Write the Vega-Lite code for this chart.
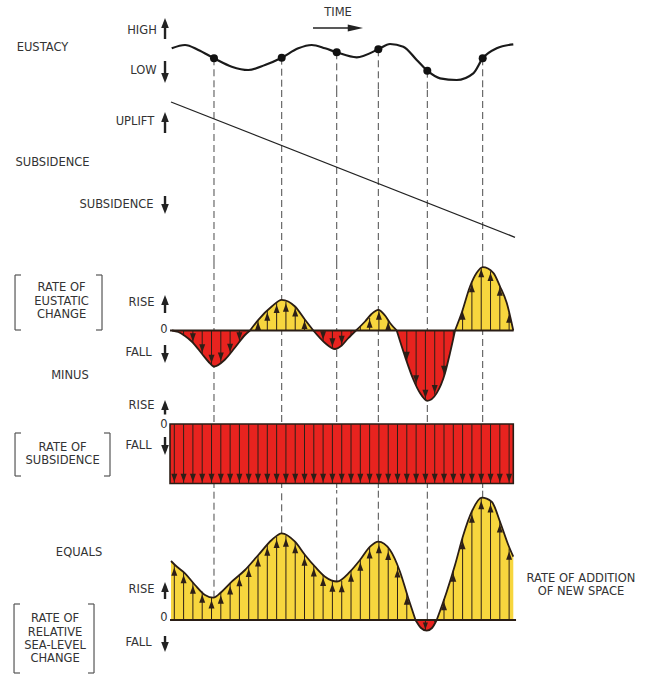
{
"$schema": "https://vega.github.io/schema/vega-lite/v6.json",
"background": "white",
"padding": 0,
"spacing": 0,
"bounds": "flush",
"config": {"view": {"stroke": null}, "axis": {"disable": true}, "legend": {"disable": true}},
"resolve": {"scale": {"x": "independent", "y": "independent", "color": "independent", "shape": "independent"}},
"datasets": {
"pivots": [
{"t":12.24,"e":1.7,"v":22.3},{"t":31.98,"e":2.3,"v":86.7},{"t":48.02,"e":7.7,"v":38.5},
{"t":60.15,"e":10.7,"v":78.3},{"t":74.43,"e":-10.7,"v":-10.7},{"t":90.58,"e":1.7,"v":122.3}],
"eustacy": [
{"t":-0.09,"y":11.7},{"t":3.79,"y":15},{"t":7.67,"y":10},{"t":12.24,"y":1.7},{"t":17.41,"y":-6.7},
{"t":22.24,"y":-10},{"t":27.11,"y":-5},{"t":31.98,"y":2.3},{"t":36.82,"y":11.7},{"t":40.73,"y":15},
{"t":44.61,"y":11.7},{"t":48.02,"y":7.7},{"t":53.85,"y":2.7},{"t":60.15,"y":10.7},{"t":63.56,"y":16},
{"t":67.43,"y":13.3},{"t":71.34,"y":0},{"t":74.43,"y":-10.7},{"t":78.13,"y":-18.3},{"t":83.0,"y":-20},
{"t":87.84,"y":-13.3},{"t":90.58,"y":1.7},{"t":94.66,"y":11.7},{"t":99.5,"y":15.7}],
"subsidence": [{"t": -0.29, "y": 0}, {"t": 100, "y": -135.3}],
"subRate": [{"t": -0.58, "t2": 99.5, "y": 0, "y2": -59.5}],
"eusRate": [
{"lobe":"A","dir":"fall","t":0.0,"y":0},{"lobe":"A","dir":"fall","t":1.84,"y":-1.5},{"lobe":"A","dir":"fall","t":3.79,"y":-5.5},
{"lobe":"A","dir":"fall","t":5.74,"y":-11},{"lobe":"A","dir":"fall","t":8.66,"y":-23},{"lobe":"A","dir":"fall","t":10.58,"y":-31},
{"lobe":"A","dir":"fall","t":12.24,"y":-36},{"lobe":"A","dir":"fall","t":15.45,"y":-29},{"lobe":"A","dir":"fall","t":18.37,"y":-17},
{"lobe":"A","dir":"fall","t":21.28,"y":-4.5},{"lobe":"A","dir":"fall","t":22.74,"y":0},
{"lobe":"B","dir":"rise","t":22.74,"y":0},{"lobe":"B","dir":"rise","t":25.16,"y":10.7},{"lobe":"B","dir":"rise","t":29.07,"y":24},
{"lobe":"B","dir":"rise","t":31.98,"y":30.7},{"lobe":"B","dir":"rise","t":35.86,"y":24},{"lobe":"B","dir":"rise","t":38.78,"y":10.7},
{"lobe":"B","dir":"rise","t":41.2,"y":0},
{"lobe":"C","dir":"fall","t":41.2,"y":0},{"lobe":"C","dir":"fall","t":44.61,"y":-12.5},{"lobe":"C","dir":"fall","t":47.52,"y":-18.5},
{"lobe":"C","dir":"fall","t":49.48,"y":-15},{"lobe":"C","dir":"fall","t":51.31,"y":-8},{"lobe":"C","dir":"fall","t":53.64,"y":0},
{"lobe":"D","dir":"rise","t":53.64,"y":0},{"lobe":"D","dir":"rise","t":56.27,"y":9},{"lobe":"D","dir":"rise","t":58.16,"y":16.5},
{"lobe":"D","dir":"rise","t":60.15,"y":20.7},{"lobe":"D","dir":"rise","t":62.1,"y":15},{"lobe":"D","dir":"rise","t":63.56,"y":7.5},
{"lobe":"D","dir":"rise","t":65.51,"y":0},
{"lobe":"E","dir":"fall","t":65.51,"y":0},{"lobe":"E","dir":"fall","t":67.93,"y":-26},{"lobe":"E","dir":"fall","t":70.35,"y":-49},
{"lobe":"E","dir":"fall","t":72.3,"y":-62.6},{"lobe":"E","dir":"fall","t":74.43,"y":-70.3},{"lobe":"E","dir":"fall","t":77.17,"y":-62.6},
{"lobe":"E","dir":"fall","t":79.59,"y":-42.7},{"lobe":"E","dir":"fall","t":81.05,"y":-22.6},{"lobe":"E","dir":"fall","t":82.51,"y":0},
{"lobe":"F","dir":"rise","t":82.51,"y":0},{"lobe":"F","dir":"rise","t":84.46,"y":17.7},{"lobe":"F","dir":"rise","t":86.88,"y":44},
{"lobe":"F","dir":"rise","t":88.83,"y":57.7},{"lobe":"F","dir":"rise","t":90.58,"y":63.4},{"lobe":"F","dir":"rise","t":93.67,"y":57.7},
{"lobe":"F","dir":"rise","t":95.63,"y":44},{"lobe":"F","dir":"rise","t":97.58,"y":27.7},{"lobe":"F","dir":"rise","t":99.5,"y":0}],
"relRate": [
{"lobe":"Y1","dir":"rise","t":-0.29,"y":59},{"lobe":"Y1","dir":"rise","t":0.87,"y":55},{"lobe":"Y1","dir":"rise","t":3.79,"y":46.7},
{"lobe":"Y1","dir":"rise","t":6.71,"y":35},{"lobe":"Y1","dir":"rise","t":9.62,"y":25},{"lobe":"Y1","dir":"rise","t":12.04,"y":22.3},
{"lobe":"Y1","dir":"rise","t":14.49,"y":28.3},{"lobe":"Y1","dir":"rise","t":17.41,"y":38.3},{"lobe":"Y1","dir":"rise","t":21.28,"y":50},
{"lobe":"Y1","dir":"rise","t":25.16,"y":65},{"lobe":"Y1","dir":"rise","t":29.07,"y":80},{"lobe":"Y1","dir":"rise","t":31.98,"y":86.7},
{"lobe":"Y1","dir":"rise","t":35.86,"y":78.3},{"lobe":"Y1","dir":"rise","t":38.78,"y":65},{"lobe":"Y1","dir":"rise","t":41.69,"y":53.3},
{"lobe":"Y1","dir":"rise","t":44.61,"y":43.3},{"lobe":"Y1","dir":"rise","t":48.1,"y":38.5},{"lobe":"Y1","dir":"rise","t":51.9,"y":48.3},
{"lobe":"Y1","dir":"rise","t":54.81,"y":60},{"lobe":"Y1","dir":"rise","t":57.73,"y":73.3},{"lobe":"Y1","dir":"rise","t":60.15,"y":78.3},
{"lobe":"Y1","dir":"rise","t":63.56,"y":70},{"lobe":"Y1","dir":"rise","t":66.47,"y":48.3},{"lobe":"Y1","dir":"rise","t":68.89,"y":21.7},
{"lobe":"Y1","dir":"rise","t":70.99,"y":0},
{"lobe":"R","dir":"fall","t":70.99,"y":0},{"lobe":"R","dir":"fall","t":72.59,"y":-8},{"lobe":"R","dir":"fall","t":74.26,"y":-10.7},
{"lobe":"R","dir":"fall","t":75.8,"y":-8},{"lobe":"R","dir":"fall","t":77.17,"y":0},
{"lobe":"Y2","dir":"rise","t":77.17,"y":0},{"lobe":"Y2","dir":"rise","t":80.09,"y":28.3},{"lobe":"Y2","dir":"rise","t":82.51,"y":55},
{"lobe":"Y2","dir":"rise","t":84.93,"y":85},{"lobe":"Y2","dir":"rise","t":87.38,"y":108.3},{"lobe":"Y2","dir":"rise","t":90.29,"y":122.3},
{"lobe":"Y2","dir":"rise","t":93.2,"y":118.3},{"lobe":"Y2","dir":"rise","t":95.63,"y":98.3},{"lobe":"Y2","dir":"rise","t":98.05,"y":75},
{"lobe":"Y2","dir":"rise","t":99.5,"y":63.3}],
"shafts": [
{"t":0.67,"eus":-0.5,"sub":-59.5,"rel":55.5},{"t":3.38,"eus":-5.5,"sub":-59.5,"rel":47.9},{"t":6.09,"eus":-12.4,"sub":-59.5,"rel":37.5},
{"t":8.80,"eus":-23.6,"sub":-59.5,"rel":28.4},{"t":11.52,"eus":-34,"sub":-59.5,"rel":22.8},{"t":14.23,"eus":-31.7,"sub":-59.5,"rel":27.6},
{"t":16.94,"eus":-22.9,"sub":-59.5,"rel":36.7},{"t":19.65,"eus":-11.5,"sub":-59.5,"rel":45},{"t":22.36,"eus":-1.2,"sub":-59.5,"rel":54.2},
{"t":25.07,"eus":10.3,"sub":-59.5,"rel":64.7},{"t":27.78,"eus":19.6,"sub":-59.5,"rel":75.6},{"t":30.50,"eus":27.3,"sub":-59.5,"rel":83.3},
{"t":33.21,"eus":28.6,"sub":-59.5,"rel":84.5},{"t":35.92,"eus":23.8,"sub":-59.5,"rel":78},{"t":38.63,"eus":11.3,"sub":-59.5,"rel":65.6},
{"t":41.34,"eus":-0.5,"sub":-59.5,"rel":54.7},{"t":44.05,"eus":-10.5,"sub":-59.5,"rel":45.2},{"t":46.76,"eus":-17.4,"sub":-59.5,"rel":39.4},
{"t":49.48,"eus":-15,"sub":-59.5,"rel":39},{"t":52.19,"eus":-5,"sub":-59.5,"rel":49.5},{"t":54.90,"eus":4.3,"sub":-59.5,"rel":60.4},
{"t":57.61,"eus":12.5,"sub":-59.5,"rel":72.8},{"t":60.32,"eus":20.5,"sub":-59.5,"rel":78},{"t":63.03,"eus":10,"sub":-59.5,"rel":71.3},
{"t":65.74,"eus":-2.5,"sub":-59.5,"rel":53.7},{"t":68.45,"eus":-31,"sub":-59.5,"rel":26.5},{"t":71.17,"eus":-54.5,"sub":-59.5,"rel":-1.5},
{"t":73.88,"eus":-69,"sub":-59.5,"rel":-10.5},{"t":76.59,"eus":-64.2,"sub":-59.5,"rel":-2},{"t":79.30,"eus":-45,"sub":-59.5,"rel":21},
{"t":82.01,"eus":-7.7,"sub":-59.5,"rel":49.5},{"t":84.72,"eus":20.5,"sub":-59.5,"rel":82},{"t":87.43,"eus":47.9,"sub":-59.5,"rel":108.5},
{"t":90.15,"eus":63,"sub":-59.5,"rel":122},{"t":92.86,"eus":59.2,"sub":-59.5,"rel":118.8},{"t":95.57,"eus":44.4,"sub":-59.5,"rel":98.8},
{"t":98.28,"eus":17.6,"sub":-59.5,"rel":71.5}],
"segments": [
{"panel":"P1","kind":"arrow","t":-2.04,"t2":-2.04,"y":21,"y2":38},
{"panel":"P1","kind":"arrow","t":-2.04,"t2":-2.04,"y":-1,"y2":-19},
{"panel":"P1","kind":"tarrow","t":41.1,"t2":54,"y":32,"y2":32},
{"panel":"P2","kind":"arrow","t":-2.04,"t2":-2.04,"y":-31,"y2":-14},
{"panel":"P2","kind":"arrow","t":-2.04,"t2":-2.04,"y":-94,"y2":-108},
{"panel":"P3","kind":"arrow","t":-2.04,"t2":-2.04,"y":17.5,"y2":31.5},
{"panel":"P3","kind":"arrow","t":-2.04,"t2":-2.04,"y":-14.5,"y2":-28.5},
{"panel":"P3","kind":"arrow","t":-2.04,"t2":-2.04,"y":-84,"y2":-73.5},
{"panel":"P3","kind":"base","t":-0.58,"t2":99.6,"y":0,"y2":0},
{"panel":"P3","kind":"bracket","t":-45.77,"t2":-45.77,"y":55.5,"y2":0.5},
{"panel":"P3","kind":"bracket","t":-45.77,"t2":-44.02,"y":55.5,"y2":55.5},
{"panel":"P3","kind":"bracket","t":-45.77,"t2":-44.02,"y":0.5,"y2":0.5},
{"panel":"P3","kind":"bracket","t":-20.41,"t2":-20.41,"y":55.5,"y2":0.5},
{"panel":"P3","kind":"bracket","t":-22.16,"t2":-20.41,"y":55.5,"y2":55.5},
{"panel":"P3","kind":"bracket","t":-22.16,"t2":-20.41,"y":0.5,"y2":0.5},
{"panel":"P4","kind":"arrow","t":-2.04,"t2":-2.04,"y":-13,"y2":-27},
{"panel":"P4","kind":"bracket","t":-45.77,"t2":-45.77,"y":-9,"y2":-52},
{"panel":"P4","kind":"bracket","t":-45.77,"t2":-44.02,"y":-9,"y2":-9},
{"panel":"P4","kind":"bracket","t":-45.77,"t2":-44.02,"y":-52,"y2":-52},
{"panel":"P4","kind":"bracket","t":-18.08,"t2":-18.08,"y":-9,"y2":-52},
{"panel":"P4","kind":"bracket","t":-19.83,"t2":-18.08,"y":-9,"y2":-9},
{"panel":"P4","kind":"bracket","t":-19.83,"t2":-18.08,"y":-52,"y2":-52},
{"panel":"P5","kind":"arrow","t":-2.04,"t2":-2.04,"y":21,"y2":34},
{"panel":"P5","kind":"arrow","t":-2.04,"t2":-2.04,"y":-16,"y2":-28},
{"panel":"P5","kind":"base","t":-0.58,"t2":100.3,"y":0,"y2":0},
{"panel":"P5","kind":"bracket","t":-46.06,"t2":-46.06,"y":16,"y2":-53},
{"panel":"P5","kind":"bracket","t":-46.06,"t2":-44.31,"y":16,"y2":16},
{"panel":"P5","kind":"bracket","t":-46.06,"t2":-44.31,"y":-53,"y2":-53},
{"panel":"P5","kind":"bracket","t":-22.74,"t2":-22.74,"y":16,"y2":-53},
{"panel":"P5","kind":"bracket","t":-24.49,"t2":-22.74,"y":16,"y2":16},
{"panel":"P5","kind":"bracket","t":-24.49,"t2":-22.74,"y":-53,"y2":-53}],
"heads": [
{"panel":"P1","t":-2.04,"y":42,"dir":"up"},{"panel":"P1","t":-2.04,"y":-23,"dir":"down"},{"panel":"P1","t":55.7,"y":32,"dir":"right"},
{"panel":"P2","t":-2.04,"y":-10,"dir":"up"},{"panel":"P2","t":-2.04,"y":-112,"dir":"down"},
{"panel":"P3","t":-2.04,"y":35.5,"dir":"up"},{"panel":"P3","t":-2.04,"y":-32.5,"dir":"down"},{"panel":"P3","t":-2.04,"y":-69.5,"dir":"up"},
{"panel":"P4","t":-2.04,"y":-31,"dir":"down"},
{"panel":"P5","t":-2.04,"y":38,"dir":"up"},{"panel":"P5","t":-2.04,"y":-32,"dir":"down"}],
"labels": [
{"panel":"P1","t":48.4,"y":47,"text":"TIME"},{"panel":"P1","t":-8.75,"y":29,"text":"HIGH"},
{"panel":"P1","t":-8.31,"y":-11,"text":"LOW"},{"panel":"P1","t":-37.76,"y":12,"text":"EUSTACY"},
{"panel":"P2","t":-10.79,"y":-20,"text":"UPLIFT"},{"panel":"P2","t":-34.84,"y":-61,"text":"SUBSIDENCE"},
{"panel":"P2","t":-16.18,"y":-103,"text":"SUBSIDENCE"},
{"panel":"P3","t":-32.2,"y":42.5,"text":"RATE OF"},{"panel":"P3","t":-32.2,"y":28.5,"text":"EUSTATIC"},
{"panel":"P3","t":-32.2,"y":15.5,"text":"CHANGE"},{"panel":"P3","t":-8.89,"y":27.5,"text":"RISE"},
{"panel":"P3","t":-9.77,"y":-22.5,"text":"FALL"},{"panel":"P3","t":-29.74,"y":-45.5,"text":"MINUS"},
{"panel":"P3","t":-8.89,"y":-75.5,"text":"RISE"},{"panel":"P3","t":-2.33,"y":0.5,"text":"0"},
{"panel":"P4","t":-2.33,"y":-1,"text":"0"},{"panel":"P4","t":-9.77,"y":-22,"text":"FALL"},
{"panel":"P4","t":-31.9,"y":-24,"text":"RATE OF"},{"panel":"P4","t":-31.9,"y":-37,"text":"SUBSIDENCE"},
{"panel":"P5","t":-27.11,"y":67,"text":"EQUALS"},{"panel":"P5","t":-8.89,"y":30,"text":"RISE"},
{"panel":"P5","t":-2.33,"y":2,"text":"0"},{"panel":"P5","t":-9.77,"y":-23,"text":"FALL"},
{"panel":"P5","t":-34.1,"y":1,"text":"RATE OF"},{"panel":"P5","t":-34.1,"y":-13,"text":"RELATIVE"},
{"panel":"P5","t":-34.1,"y":-26,"text":"SEA-LEVEL"},{"panel":"P5","t":-34.1,"y":-39,"text":"CHANGE"},
{"panel":"P5","t":119.24,"y":41,"text":"RATE OF ADDITION"},{"panel":"P5","t":119.24,"y":28,"text":"OF NEW SPACE"}]
},
"vconcat": [
{
"width": 646, "height": 90,
"encoding": {"x": {"field": "t", "type": "quantitative", "scale": {"domain": [-50.15, 138.19], "nice": false, "zero": false}}},
"layer": [
{"data": {"name": "pivots"}, "mark": {"type": "rule", "color": "#4a4a4a", "strokeWidth": 1, "strokeDash": [7, 4]},
 "encoding": {"y": {"field": "e", "type": "quantitative", "scale": {"domain": [-30, 60], "nice": false, "zero": false}}, "y2": {"datum": -30}}},
{"data": {"name": "eustacy"}, "mark": {"type": "line", "interpolate": "monotone", "color": "#1a1a1a", "strokeWidth": 2.2},
 "encoding": {"y": {"field": "y", "type": "quantitative", "scale": {"domain": [-30, 60], "nice": false, "zero": false}}}},
{"data": {"name": "pivots"}, "mark": {"type": "point", "filled": true, "size": 64, "color": "#111111", "opacity": 1},
 "encoding": {"y": {"field": "e", "type": "quantitative", "scale": {"domain": [-30, 60], "nice": false, "zero": false}}}},
{"data": {"name": "segments"}, "transform": [{"filter": "datum.panel == 'P1' && datum.kind == 'arrow'"}],
 "mark": {"type": "rule", "color": "#222222", "strokeWidth": 2.4},
 "encoding": {"x2": {"field": "t2"}, "y": {"field": "y", "type": "quantitative", "scale": {"domain": [-30, 60], "nice": false, "zero": false}}, "y2": {"field": "y2"}}},
{"data": {"name": "segments"}, "transform": [{"filter": "datum.panel == 'P1' && datum.kind == 'tarrow'"}],
 "mark": {"type": "rule", "color": "#222222", "strokeWidth": 1.5},
 "encoding": {"x2": {"field": "t2"}, "y": {"field": "y", "type": "quantitative", "scale": {"domain": [-30, 60], "nice": false, "zero": false}}, "y2": {"field": "y2"}}},
{"data": {"name": "heads"}, "transform": [{"filter": "datum.panel == 'P1'"}],
 "mark": {"type": "point", "filled": true, "size": 81, "color": "#222222", "opacity": 1, "strokeWidth": 0},
 "encoding": {"y": {"field": "y", "type": "quantitative", "scale": {"domain": [-30, 60], "nice": false, "zero": false}},
  "shape": {"field": "dir", "type": "nominal", "legend": null, "scale": {"domain": ["up", "down", "right"], "range": ["M0,0L-0.85,2.2L0.85,2.2Z", "M0,0L-0.85,-2.2L0.85,-2.2Z", "M0,0L-3.4,-0.8L-3.4,0.8Z"]}}}},
{"data": {"name": "labels"}, "transform": [{"filter": "datum.panel == 'P1'"}],
 "mark": {"type": "text", "font": "DejaVu Sans", "fontSize": 11.5, "color": "#333333", "align": "center", "baseline": "middle"},
 "encoding": {"y": {"field": "y", "type": "quantitative", "scale": {"domain": [-30, 60], "nice": false, "zero": false}}, "text": {"field": "text"}}}
]
},
{
"width": 646, "height": 172,
"encoding": {"x": {"field": "t", "type": "quantitative", "scale": {"domain": [-50.15, 138.19], "nice": false, "zero": false}}},
"layer": [
{"data": {"name": "pivots"}, "mark": {"type": "rule", "color": "#4a4a4a", "strokeWidth": 1, "strokeDash": [7, 4]}},
{"data": {"name": "subsidence"}, "mark": {"type": "line", "color": "#222222", "strokeWidth": 1.3},
 "encoding": {"y": {"field": "y", "type": "quantitative", "scale": {"domain": [-160, 12], "nice": false, "zero": false}}}},
{"data": {"name": "segments"}, "transform": [{"filter": "datum.panel == 'P2' && datum.kind == 'arrow'"}],
 "mark": {"type": "rule", "color": "#222222", "strokeWidth": 2.4},
 "encoding": {"x2": {"field": "t2"}, "y": {"field": "y", "type": "quantitative", "scale": {"domain": [-160, 12], "nice": false, "zero": false}}, "y2": {"field": "y2"}}},
{"data": {"name": "heads"}, "transform": [{"filter": "datum.panel == 'P2'"}],
 "mark": {"type": "point", "filled": true, "size": 81, "color": "#222222", "opacity": 1, "strokeWidth": 0},
 "encoding": {"y": {"field": "y", "type": "quantitative", "scale": {"domain": [-160, 12], "nice": false, "zero": false}},
  "shape": {"field": "dir", "type": "nominal", "legend": null, "scale": {"domain": ["up", "down", "right"], "range": ["M0,0L-0.85,2.2L0.85,2.2Z", "M0,0L-0.85,-2.2L0.85,-2.2Z", "M0,0L-3.4,-0.8L-3.4,0.8Z"]}}}},
{"data": {"name": "labels"}, "transform": [{"filter": "datum.panel == 'P2'"}],
 "mark": {"type": "text", "font": "DejaVu Sans", "fontSize": 11.5, "color": "#333333", "align": "center", "baseline": "middle"},
 "encoding": {"y": {"field": "y", "type": "quantitative", "scale": {"domain": [-160, 12], "nice": false, "zero": false}}, "text": {"field": "text"}}}
]
},
{
"width": 646, "height": 153,
"encoding": {"x": {"field": "t", "type": "quantitative", "scale": {"domain": [-50.15, 138.19], "nice": false, "zero": false}}},
"layer": [
{"data": {"name": "pivots"}, "mark": {"type": "rule", "color": "#4a4a4a", "strokeWidth": 1, "strokeDash": [7, 4]}},
{"data": {"name": "eusRate"}, "mark": {"type": "area", "interpolate": "monotone", "opacity": 1},
 "encoding": {"y": {"field": "y", "type": "quantitative", "scale": {"domain": [-84.5, 68.5], "nice": false, "zero": false}},
  "y2": {"datum": 0}, "detail": {"field": "lobe"},
  "color": {"field": "dir", "type": "nominal", "legend": null, "scale": {"domain": ["rise", "fall"], "range": ["#f7d63e", "#e8231f"]}}}},
{"data": {"name": "shafts"}, "mark": {"type": "rule", "color": "#2d1f17", "strokeWidth": 1},
 "encoding": {"y": {"field": "eus", "type": "quantitative", "scale": {"domain": [-84.5, 68.5], "nice": false, "zero": false}}, "y2": {"datum": 0}}},
{"data": {"name": "shafts"}, "transform": [{"filter": "datum.eus <= -9"}],
 "mark": {"type": "point", "filled": true, "size": 56, "color": "#2d1f17", "opacity": 1, "strokeWidth": 0, "shape": "M0,0L-0.8,-2.2L0.8,-2.2Z", "yOffset": -1.5},
 "encoding": {"y": {"field": "eus", "type": "quantitative", "scale": {"domain": [-84.5, 68.5], "nice": false, "zero": false}}}},
{"data": {"name": "shafts"}, "transform": [{"filter": "datum.eus >= 9"}],
 "mark": {"type": "point", "filled": true, "size": 56, "color": "#2d1f17", "opacity": 1, "strokeWidth": 0, "shape": "M0,0L-0.8,2.2L0.8,2.2Z", "yOffset": 1.5},
 "encoding": {"y": {"field": "eus", "type": "quantitative", "scale": {"domain": [-84.5, 68.5], "nice": false, "zero": false}}}},
{"data": {"name": "eusRate"}, "mark": {"type": "line", "interpolate": "monotone", "color": "#2a1d15", "strokeWidth": 1.8},
 "encoding": {"y": {"field": "y", "type": "quantitative", "scale": {"domain": [-84.5, 68.5], "nice": false, "zero": false}}, "detail": {"field": "lobe"}}},
{"data": {"name": "segments"}, "transform": [{"filter": "datum.panel == 'P3' && datum.kind == 'base'"}],
 "mark": {"type": "rule", "color": "#2a1d15", "strokeWidth": 1.8},
 "encoding": {"x2": {"field": "t2"}, "y": {"field": "y", "type": "quantitative", "scale": {"domain": [-84.5, 68.5], "nice": false, "zero": false}}, "y2": {"field": "y2"}}},
{"data": {"name": "segments"}, "transform": [{"filter": "datum.panel == 'P3' && datum.kind == 'bracket'"}],
 "mark": {"type": "rule", "color": "#555555", "strokeWidth": 1.2},
 "encoding": {"x2": {"field": "t2"}, "y": {"field": "y", "type": "quantitative", "scale": {"domain": [-84.5, 68.5], "nice": false, "zero": false}}, "y2": {"field": "y2"}}},
{"data": {"name": "segments"}, "transform": [{"filter": "datum.panel == 'P3' && datum.kind == 'arrow'"}],
 "mark": {"type": "rule", "color": "#222222", "strokeWidth": 2.4},
 "encoding": {"x2": {"field": "t2"}, "y": {"field": "y", "type": "quantitative", "scale": {"domain": [-84.5, 68.5], "nice": false, "zero": false}}, "y2": {"field": "y2"}}},
{"data": {"name": "heads"}, "transform": [{"filter": "datum.panel == 'P3'"}],
 "mark": {"type": "point", "filled": true, "size": 81, "color": "#222222", "opacity": 1, "strokeWidth": 0},
 "encoding": {"y": {"field": "y", "type": "quantitative", "scale": {"domain": [-84.5, 68.5], "nice": false, "zero": false}},
  "shape": {"field": "dir", "type": "nominal", "legend": null, "scale": {"domain": ["up", "down", "right"], "range": ["M0,0L-0.85,2.2L0.85,2.2Z", "M0,0L-0.85,-2.2L0.85,-2.2Z", "M0,0L-3.4,-0.8L-3.4,0.8Z"]}}}},
{"data": {"name": "labels"}, "transform": [{"filter": "datum.panel == 'P3'"}],
 "mark": {"type": "text", "font": "DejaVu Sans", "fontSize": 11.5, "color": "#333333", "align": "center", "baseline": "middle"},
 "encoding": {"y": {"field": "y", "type": "quantitative", "scale": {"domain": [-84.5, 68.5], "nice": false, "zero": false}}, "text": {"field": "text"}}}
]
},
{
"width": 646, "height": 75,
"encoding": {"x": {"field": "t", "type": "quantitative", "scale": {"domain": [-50.15, 138.19], "nice": false, "zero": false}}},
"layer": [
{"data": {"name": "pivots"}, "mark": {"type": "rule", "color": "#4a4a4a", "strokeWidth": 1, "strokeDash": [7, 4]}},
{"data": {"name": "subRate"},
 "mark": {"type": "rect", "fill": "#e8231f", "stroke": "#2a1d15", "strokeWidth": 1.6, "opacity": 1},
 "encoding": {"x2": {"field": "t2"}, "y": {"field": "y", "type": "quantitative", "scale": {"domain": [-66, 9], "nice": false, "zero": false}}, "y2": {"field": "y2"}}},
{"data": {"name": "shafts"}, "mark": {"type": "rule", "color": "#2d1f17", "strokeWidth": 1},
 "encoding": {"y": {"field": "sub", "type": "quantitative", "scale": {"domain": [-66, 9], "nice": false, "zero": false}}, "y2": {"datum": 0}}},
{"data": {"name": "shafts"},
 "mark": {"type": "point", "filled": true, "size": 56, "color": "#2d1f17", "opacity": 1, "strokeWidth": 0, "shape": "M0,0L-0.8,-2.2L0.8,-2.2Z", "yOffset": -1.5},
 "encoding": {"y": {"field": "sub", "type": "quantitative", "scale": {"domain": [-66, 9], "nice": false, "zero": false}}}},
{"data": {"name": "segments"}, "transform": [{"filter": "datum.panel == 'P4' && datum.kind == 'bracket'"}],
 "mark": {"type": "rule", "color": "#555555", "strokeWidth": 1.2},
 "encoding": {"x2": {"field": "t2"}, "y": {"field": "y", "type": "quantitative", "scale": {"domain": [-66, 9], "nice": false, "zero": false}}, "y2": {"field": "y2"}}},
{"data": {"name": "segments"}, "transform": [{"filter": "datum.panel == 'P4' && datum.kind == 'arrow'"}],
 "mark": {"type": "rule", "color": "#222222", "strokeWidth": 2.4},
 "encoding": {"x2": {"field": "t2"}, "y": {"field": "y", "type": "quantitative", "scale": {"domain": [-66, 9], "nice": false, "zero": false}}, "y2": {"field": "y2"}}},
{"data": {"name": "heads"}, "transform": [{"filter": "datum.panel == 'P4'"}],
 "mark": {"type": "point", "filled": true, "size": 81, "color": "#222222", "opacity": 1, "strokeWidth": 0},
 "encoding": {"y": {"field": "y", "type": "quantitative", "scale": {"domain": [-66, 9], "nice": false, "zero": false}},
  "shape": {"field": "dir", "type": "nominal", "legend": null, "scale": {"domain": ["up", "down", "right"], "range": ["M0,0L-0.85,2.2L0.85,2.2Z", "M0,0L-0.85,-2.2L0.85,-2.2Z", "M0,0L-3.4,-0.8L-3.4,0.8Z"]}}}},
{"data": {"name": "labels"}, "transform": [{"filter": "datum.panel == 'P4'"}],
 "mark": {"type": "text", "font": "DejaVu Sans", "fontSize": 11.5, "color": "#333333", "align": "center", "baseline": "middle"},
 "encoding": {"y": {"field": "y", "type": "quantitative", "scale": {"domain": [-66, 9], "nice": false, "zero": false}}, "text": {"field": "text"}}}
]
},
{
"width": 646, "height": 185,
"encoding": {"x": {"field": "t", "type": "quantitative", "scale": {"domain": [-50.15, 138.19], "nice": false, "zero": false}}},
"layer": [
{"data": {"name": "pivots"}, "mark": {"type": "rule", "color": "#4a4a4a", "strokeWidth": 1, "strokeDash": [7, 4]},
 "encoding": {"y": {"field": "v", "type": "quantitative", "scale": {"domain": [-55, 130], "nice": false, "zero": false}}, "y2": {"datum": 130}}},
{"data": {"name": "relRate"}, "mark": {"type": "area", "interpolate": "monotone", "opacity": 1},
 "encoding": {"y": {"field": "y", "type": "quantitative", "scale": {"domain": [-55, 130], "nice": false, "zero": false}},
  "y2": {"datum": 0}, "detail": {"field": "lobe"},
  "color": {"field": "dir", "type": "nominal", "legend": null, "scale": {"domain": ["rise", "fall"], "range": ["#f7d63e", "#e8231f"]}}}},
{"data": {"name": "shafts"}, "mark": {"type": "rule", "color": "#2d1f17", "strokeWidth": 1},
 "encoding": {"y": {"field": "rel", "type": "quantitative", "scale": {"domain": [-55, 130], "nice": false, "zero": false}}, "y2": {"datum": 0}}},
{"data": {"name": "shafts"}, "transform": [{"filter": "datum.rel >= 10"}],
 "mark": {"type": "point", "filled": true, "size": 56, "color": "#2d1f17", "opacity": 1, "strokeWidth": 0, "shape": "M0,0L-0.8,2.2L0.8,2.2Z", "yOffset": 3},
 "encoding": {"y": {"field": "rel", "type": "quantitative", "scale": {"domain": [-55, 130], "nice": false, "zero": false}}}},
{"data": {"name": "shafts"}, "transform": [{"filter": "datum.rel <= -8"}],
 "mark": {"type": "point", "filled": true, "size": 40, "color": "#2d1f17", "opacity": 1, "strokeWidth": 0, "shape": "M0,0L-0.8,-2.2L0.8,-2.2Z", "yOffset": -1},
 "encoding": {"y": {"field": "rel", "type": "quantitative", "scale": {"domain": [-55, 130], "nice": false, "zero": false}}}},
{"data": {"name": "relRate"}, "mark": {"type": "line", "interpolate": "monotone", "color": "#2a1d15", "strokeWidth": 1.8},
 "encoding": {"y": {"field": "y", "type": "quantitative", "scale": {"domain": [-55, 130], "nice": false, "zero": false}}, "detail": {"field": "lobe"}}},
{"data": {"name": "segments"}, "transform": [{"filter": "datum.panel == 'P5' && datum.kind == 'base'"}],
 "mark": {"type": "rule", "color": "#2a1d15", "strokeWidth": 1.8},
 "encoding": {"x2": {"field": "t2"}, "y": {"field": "y", "type": "quantitative", "scale": {"domain": [-55, 130], "nice": false, "zero": false}}, "y2": {"field": "y2"}}},
{"data": {"name": "segments"}, "transform": [{"filter": "datum.panel == 'P5' && datum.kind == 'bracket'"}],
 "mark": {"type": "rule", "color": "#555555", "strokeWidth": 1.2},
 "encoding": {"x2": {"field": "t2"}, "y": {"field": "y", "type": "quantitative", "scale": {"domain": [-55, 130], "nice": false, "zero": false}}, "y2": {"field": "y2"}}},
{"data": {"name": "segments"}, "transform": [{"filter": "datum.panel == 'P5' && datum.kind == 'arrow'"}],
 "mark": {"type": "rule", "color": "#222222", "strokeWidth": 2.4},
 "encoding": {"x2": {"field": "t2"}, "y": {"field": "y", "type": "quantitative", "scale": {"domain": [-55, 130], "nice": false, "zero": false}}, "y2": {"field": "y2"}}},
{"data": {"name": "heads"}, "transform": [{"filter": "datum.panel == 'P5'"}],
 "mark": {"type": "point", "filled": true, "size": 81, "color": "#222222", "opacity": 1, "strokeWidth": 0},
 "encoding": {"y": {"field": "y", "type": "quantitative", "scale": {"domain": [-55, 130], "nice": false, "zero": false}},
  "shape": {"field": "dir", "type": "nominal", "legend": null, "scale": {"domain": ["up", "down", "right"], "range": ["M0,0L-0.85,2.2L0.85,2.2Z", "M0,0L-0.85,-2.2L0.85,-2.2Z", "M0,0L-3.4,-0.8L-3.4,0.8Z"]}}}},
{"data": {"name": "labels"}, "transform": [{"filter": "datum.panel == 'P5'"}],
 "mark": {"type": "text", "font": "DejaVu Sans", "fontSize": 11.5, "color": "#333333", "align": "center", "baseline": "middle"},
 "encoding": {"y": {"field": "y", "type": "quantitative", "scale": {"domain": [-55, 130], "nice": false, "zero": false}}, "text": {"field": "text"}}}
]
}
]
}
